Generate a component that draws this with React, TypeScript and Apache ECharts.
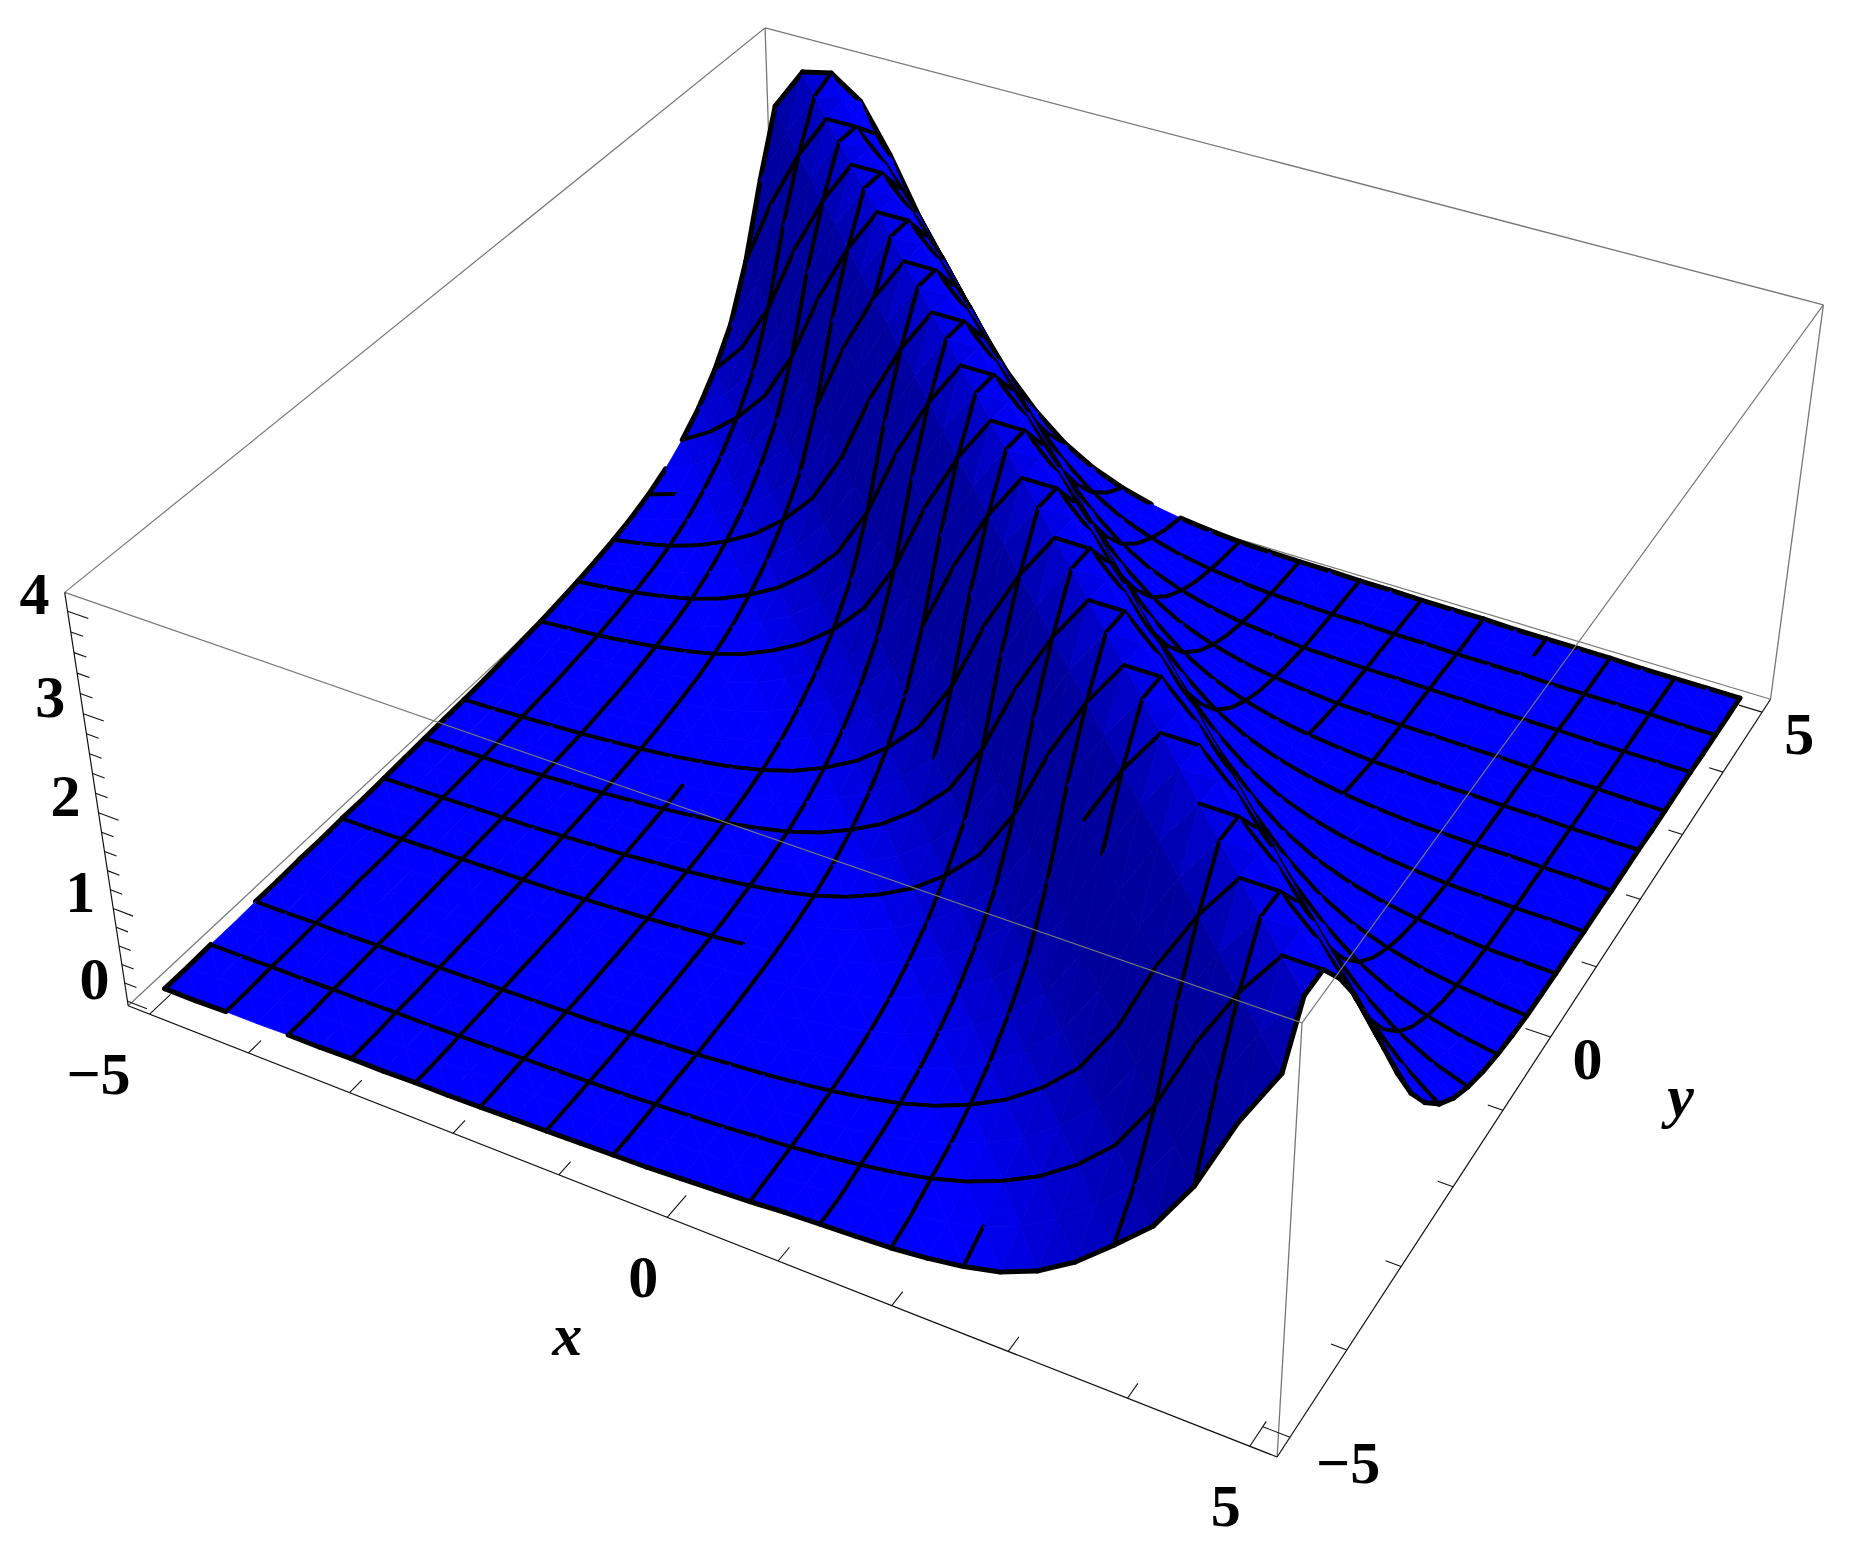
import React, { useEffect, useRef } from "react";
import * as echarts from "echarts";

const W = 1855, H = 1554;
const N = 33;
// surface height at y = -5 + j*0.3125 (row j), x = -5 + i*0.3125 (column i), read off the picture
const surface: number[][] = [
[.06,.06,.07,.07,.08,.08,.09,.09,.10,.10,.11,.12,.13,.14,.15,.16,.18,.20,.22,.25,.27,.29,.31,.35,.41,.50,.66,.90,1.22,1.56,2.1,2.85,3.45],
[.06,.07,.07,.08,.08,.09,.09,.10,.10,.11,.12,.13,.14,.15,.16,.18,.20,.22,.25,.28,.30,.34,.39,.46,.56,.71,.93,1.22,1.56,2.1,2.85,3.45,3.92],
[.07,.07,.08,.08,.09,.09,.10,.10,.11,.12,.13,.14,.15,.16,.18,.20,.22,.25,.28,.32,.37,.43,.51,.62,.77,.96,1.22,1.56,2.1,2.85,3.45,3.92,3.92],
[.07,.08,.08,.09,.09,.10,.10,.11,.12,.13,.14,.15,.16,.18,.20,.22,.25,.28,.32,.37,.43,.51,.62,.77,.96,1.22,1.56,2.1,2.85,3.45,3.92,3.92,3.6],
[.08,.08,.09,.09,.10,.10,.11,.12,.13,.14,.15,.16,.18,.20,.22,.25,.28,.32,.37,.43,.51,.62,.77,.96,1.22,1.56,2.1,2.85,3.45,3.92,3.92,3.6,3.2],
[.08,.09,.09,.10,.10,.11,.12,.13,.14,.15,.16,.18,.20,.22,.25,.28,.32,.37,.43,.51,.62,.77,.96,1.22,1.56,2.1,2.85,3.45,3.92,3.92,3.6,3.2,2.7],
[.09,.09,.10,.10,.11,.12,.13,.14,.15,.16,.18,.20,.22,.25,.28,.32,.37,.43,.51,.62,.77,.96,1.22,1.56,2.1,2.85,3.45,3.92,3.92,3.6,3.2,2.7,2.2],
[.09,.10,.10,.11,.12,.13,.14,.15,.16,.18,.20,.22,.25,.28,.32,.37,.43,.51,.62,.77,.96,1.22,1.56,2.1,2.85,3.45,3.92,3.92,3.6,3.2,2.7,2.2,1.7],
[.10,.10,.11,.12,.13,.14,.15,.16,.18,.20,.22,.25,.28,.32,.37,.43,.51,.62,.77,.96,1.22,1.56,2.1,2.85,3.45,3.92,3.92,3.6,3.2,2.7,2.2,1.7,1.25],
[.10,.11,.12,.13,.14,.15,.16,.18,.20,.22,.25,.28,.32,.37,.43,.51,.62,.77,.96,1.22,1.56,2.1,2.85,3.45,3.92,3.92,3.6,3.2,2.7,2.2,1.7,1.25,.90],
[.11,.12,.13,.14,.15,.16,.18,.20,.22,.25,.28,.32,.37,.43,.51,.62,.77,.96,1.22,1.56,2.1,2.85,3.45,3.92,3.92,3.6,3.2,2.7,2.2,1.7,1.25,.90,.63],
[.12,.13,.14,.15,.16,.18,.20,.22,.25,.28,.32,.37,.43,.51,.62,.77,.96,1.22,1.56,2.1,2.85,3.45,3.92,3.92,3.6,3.2,2.7,2.2,1.7,1.25,.90,.63,.44],
[.13,.14,.15,.16,.18,.20,.22,.25,.28,.32,.37,.43,.51,.62,.77,.96,1.22,1.56,2.1,2.85,3.45,3.92,3.92,3.6,3.2,2.7,2.2,1.7,1.25,.90,.63,.44,.31],
[.14,.15,.16,.18,.20,.22,.25,.28,.32,.37,.43,.51,.62,.77,.96,1.22,1.56,2.1,2.85,3.45,3.92,3.92,3.6,3.2,2.7,2.2,1.7,1.25,.90,.63,.44,.31,.22],
[.15,.16,.18,.20,.22,.25,.28,.32,.37,.43,.51,.62,.77,.96,1.22,1.56,2.1,2.85,3.45,3.92,3.92,3.6,3.2,2.7,2.2,1.7,1.25,.90,.63,.44,.31,.22,.16],
[.16,.18,.20,.22,.25,.28,.32,.37,.43,.51,.62,.77,.96,1.22,1.56,2.1,2.85,3.45,3.92,3.92,3.6,3.2,2.7,2.2,1.7,1.25,.90,.63,.44,.31,.22,.16,.12],
[.18,.20,.22,.25,.28,.32,.37,.43,.51,.62,.77,.96,1.22,1.56,2.1,2.85,3.45,3.92,3.92,3.6,3.2,2.7,2.2,1.7,1.25,.90,.63,.44,.31,.22,.16,.12,.09],
[.20,.22,.25,.28,.32,.37,.43,.51,.62,.77,.96,1.22,1.56,2.1,2.85,3.45,3.92,3.92,3.6,3.2,2.7,2.2,1.7,1.25,.90,.63,.44,.31,.22,.16,.12,.09,.08],
[.22,.25,.28,.32,.37,.43,.51,.62,.77,.96,1.22,1.56,2.1,2.85,3.45,3.92,3.92,3.6,3.2,2.7,2.2,1.7,1.25,.90,.63,.44,.31,.22,.16,.12,.09,.08,.07],
[.25,.28,.32,.37,.43,.51,.62,.77,.96,1.22,1.56,2.1,2.85,3.45,3.92,3.92,3.6,3.2,2.7,2.2,1.7,1.25,.90,.63,.44,.31,.22,.16,.12,.09,.08,.07,.07],
[.28,.32,.37,.43,.51,.62,.77,.96,1.22,1.56,2.1,2.85,3.45,3.92,3.92,3.6,3.2,2.7,2.2,1.7,1.25,.90,.63,.44,.31,.22,.16,.12,.09,.08,.07,.07,.06],
[.32,.37,.43,.51,.62,.77,.96,1.22,1.56,2.1,2.85,3.45,3.92,3.92,3.6,3.2,2.7,2.2,1.7,1.25,.90,.63,.44,.31,.22,.16,.12,.09,.08,.07,.07,.06,.06],
[.37,.43,.51,.62,.77,.96,1.22,1.56,2.1,2.85,3.45,3.92,3.92,3.6,3.2,2.7,2.2,1.7,1.25,.90,.63,.44,.31,.22,.16,.12,.09,.08,.07,.07,.06,.06,.05],
[.43,.51,.62,.77,.96,1.22,1.56,2.1,2.85,3.45,3.92,3.92,3.6,3.2,2.7,2.2,1.7,1.25,.90,.63,.44,.31,.22,.16,.12,.09,.08,.07,.07,.06,.06,.05,.05],
[.51,.62,.77,.96,1.22,1.56,2.1,2.85,3.45,3.92,3.92,3.6,3.2,2.7,2.2,1.7,1.25,.90,.63,.44,.31,.22,.16,.12,.09,.08,.07,.07,.06,.06,.05,.05,.05],
[.62,.77,.96,1.22,1.56,2.1,2.85,3.45,3.92,3.92,3.6,3.2,2.7,2.2,1.7,1.25,.90,.63,.44,.31,.22,.16,.12,.09,.08,.07,.07,.06,.06,.05,.05,.05,.04],
[.77,.96,1.22,1.56,2.1,2.85,3.45,3.92,3.92,3.6,3.2,2.7,2.2,1.7,1.25,.90,.63,.44,.31,.22,.16,.12,.09,.08,.07,.07,.06,.06,.05,.05,.05,.04,.04],
[.96,1.22,1.56,2.1,2.85,3.45,3.92,3.92,3.6,3.2,2.7,2.2,1.7,1.25,.90,.63,.44,.31,.22,.16,.12,.09,.08,.07,.07,.06,.06,.05,.05,.05,.04,.04,.04],
[1.22,1.56,2.1,2.85,3.45,3.92,3.92,3.6,3.2,2.7,2.2,1.7,1.25,.90,.63,.44,.31,.22,.16,.12,.09,.08,.07,.07,.06,.06,.05,.05,.05,.04,.04,.04,.04],
[1.56,2.1,2.85,3.45,3.92,3.92,3.6,3.2,2.7,2.2,1.7,1.25,.90,.63,.44,.31,.22,.16,.12,.09,.08,.07,.07,.06,.06,.05,.05,.05,.04,.04,.04,.04,.03],
[2.1,2.85,3.45,3.92,3.92,3.6,3.2,2.7,2.2,1.7,1.25,.90,.63,.44,.31,.22,.16,.12,.09,.08,.07,.07,.06,.06,.05,.05,.05,.04,.04,.04,.04,.03,.03],
[2.85,3.45,3.92,3.98,3.7,3.2,2.7,2.2,1.7,1.25,.90,.63,.44,.31,.22,.16,.12,.09,.08,.07,.07,.06,.06,.05,.05,.05,.04,.04,.04,.04,.03,.03,.03],
[3.5,3.95,4.02,3.8,3.3,2.7,2.2,1.7,1.25,.90,.63,.44,.31,.22,.16,.12,.09,.08,.07,.07,.06,.06,.05,.05,.05,.04,.04,.04,.04,.03,.03,.03,.03],
];

// mesh stretches that the reference does not show: [line index, from, to]
const hiddenAlongX: [number,number,number][] = [[0,2,4],[6,0,27],[8,13,23],[16,0,14],[24,1,6],[32,13,14]];
const hiddenAlongY: [number,number,number][] = [[0,2,4],[0,25,26],[26,0,31],[24,1,7],[24,10,22],[22,12,24],[16,0,13],[8,13,24]];

const xTicks = [-5,-4,-3,-2,-1,0,1,2,3,4,5];
const yTicks = [-5,-4,-3,-2,-1,0,1,2,3,4,5];
const zTicks = [0,.2,.4,.6,.8,1,1.2,1.4,1.6,1.8,2,2.2,2.4,2.6,2.8,3,3.2,3.4,3.6,3.8,4];
const xLabels = [-5,0,5];
const yLabels = [-5,0,5];
const zLabels = [0,1,2,3,4];

const R = 5.22, ZL = -0.05, ZH = 4.18;
const calib: [number,number,number,number,number][] = [
  [-R,-R,ZL,128,1006],[R,-R,ZL,1278,1457],[R,R,ZL,1770,699],
  [-R,-R,ZH,65,592],[R,-R,ZH,1301,1023],[R,R,ZH,1824,305],[-R,R,ZH,765,28],
];
function solveCamera() {
  const A: number[][] = Array.from({length:11},()=>new Array(12).fill(0));
  const add=(r:number[],b:number)=>{for(let a=0;a<11;a++){for(let c=0;c<11;c++)A[a][c]+=r[a]*r[c];A[a][11]+=r[a]*b;}};
  for(const [x0,y0,z0,u0,v0] of calib){
    const x=x0/5,y=y0/5,z=z0/5,u=u0/1000,v=v0/1000;
    add([x,y,z,1,0,0,0,0,-u*x,-u*y,-u*z],u);
    add([0,0,0,0,x,y,z,1,-v*x,-v*y,-v*z],v);
  }
  for(let i=0;i<11;i++){
    let p=i;for(let r=i+1;r<11;r++)if(Math.abs(A[r][i])>Math.abs(A[p][i]))p=r;
    [A[i],A[p]]=[A[p],A[i]];
    for(let r=0;r<11;r++){if(r===i)continue;const f=A[r][i]/A[i][i];for(let c=i;c<12;c++)A[r][c]-=f*A[i][c];}
  }
  return A.map((row,i)=>row[11]/row[i]);
}
const P = solveCamera();
function project(x0:number,y0:number,z0:number):[number,number,number]{
  const x=x0/5,y=y0/5,z=z0/5;
  const w=P[8]*x+P[9]*y+P[10]*z+1;
  return [1000*(P[0]*x+P[1]*y+P[2]*z+P[3])/w,1000*(P[4]*x+P[5]*y+P[6]*z+P[7])/w,w];
}

type Seg=[number,number,number,number,number,number,string,number];
const GREY="#777777", INK="#111111";
const backSegs:Seg[]=[
  [-R,-R,ZL,-R,R,ZL,GREY,1.2],[-R,R,ZL,R,R,ZL,GREY,1.2],[-R,R,ZL,-R,R,ZH,GREY,1.3],
  [-R,-R,ZH,-R,R,ZH,GREY,1.2],[-R,R,ZH,R,R,ZH,GREY,1.3],[R,R,ZL,R,R,ZH,GREY,1.3],
];
const frontSegs:Seg[]=[
  [-R,-R,ZH,R,-R,ZH,GREY,1.2],[R,-R,ZH,R,R,ZH,GREY,1.2],[R,-R,ZL,R,-R,ZH,GREY,1.3],
  [-R,-R,ZL,R,-R,ZL,INK,1.2],[R,-R,ZL,R,R,ZL,INK,1.2],[-R,-R,ZL,-R,-R,ZH,INK,1.2],
];
xTicks.forEach(v=>{const l=xLabels.includes(v)?.28:.17;frontSegs.push([v,-R,ZL,v,-R+l,ZL,INK,1.1]);});
yTicks.forEach(v=>{const l=yLabels.includes(v)?.22:.13;frontSegs.push([R,v,ZL,R-l,v,ZL,INK,1.1]);});
zTicks.forEach(v=>{const l=zLabels.includes(v)?.2:.12;frontSegs.push([-R,-R,v,-R+l,-R,v,INK,1.1]);});

type Lab={t:string;x:number;y:number;z:number;dx:number;dy:number;align:string;font:string};
const BOLD='bold 60px "Liberation Serif"', ITAL='italic bold 60px "Liberation Serif"';
const num=(v:number)=>v<0?"\u2212"+(-v):String(v);
const labels:Lab[]=[
  ...zLabels.map(v=>({t:num(v),x:-R,y:-R,z:v,dx:-33,dy:v===0?-22:-17,align:"center",font:BOLD})),
  ...xLabels.map(v=>({t:num(v),x:v,y:-R,z:ZL,dx:v<0?-19:-9,dy:60,align:"right",font:BOLD})),
  ...yLabels.map(v=>({t:num(v),x:R,y:v,z:ZL,dx:v<0?26:22,dy:v<0?26:22,align:"left",font:BOLD})),
  {t:"x",x:0,y:-R,z:ZL,dx:-100,dy:118,align:"center",font:ITAL},
  {t:"y",x:R,y:0,z:ZL,dx:130,dy:59,align:"center",font:ITAL},
];

const step=10/(N-1);
const isHidden=(list:[number,number,number][],line:number,a:number)=>list.some(([l,s,e])=>l===line&&a>=s&&a<e);
const clampI=(v:number)=>Math.max(0,Math.min(N-1,v));
function vertexBright(i:number,j:number){
  const gx=(surface[j][clampI(i+1)]-surface[j][clampI(i-1)])/((clampI(i+1)-clampI(i-1))*step);
  const gy=(surface[clampI(j+1)][i]-surface[clampI(j-1)][i])/((clampI(j+1)-clampI(j-1))*step);
  const len=Math.hypot(gx,gy,1);
  return Math.max(.45,Math.min(1,.76+.22*(-gx-gy)/len+.45/len));
}
type Tri={a:[number,number];b:[number,number];c:[number,number];w:number;col:string;edges:any[]};
const tris:Tri[]=[];
function makeTri(a:[number,number],b:[number,number],c:[number,number],edges:any[]){
  const vs=[a,b,c];
  const cx=vs.reduce((s,v)=>s+(-5+v[0]*step),0)/3,cy=vs.reduce((s,v)=>s+(-5+v[1]*step),0)/3,cz=vs.reduce((s,v)=>s+surface[v[1]][v[0]],0)/3;
  const br=vs.reduce((s,v)=>s+vertexBright(v[0],v[1]),0)/3;
  tris.push({a,b,c,w:project(cx,cy,cz)[2],col:`rgb(0,0,${Math.round(255*br)})`,edges});
}
function edge(p:[number,number],q:[number,number]){
  const alongX=p[1]===q[1];
  const idx=alongX?p[1]:p[0];
  if(idx%2!==0)return null;
  const start=alongX?Math.min(p[0],q[0]):Math.min(p[1],q[1]);
  if(isHidden(alongX?hiddenAlongX:hiddenAlongY,idx,start))return null;
  return [p,q,idx===0||idx===N-1];
}
for(let j=0;j<N-1;j++)for(let i=0;i<N-1;i++){
  const v00:[number,number]=[i,j],v10:[number,number]=[i+1,j],v01:[number,number]=[i,j+1],v11:[number,number]=[i+1,j+1];
  makeTri(v00,v10,v01,[edge(v00,v10),edge(v00,v01)].filter(Boolean));
  makeTri(v10,v11,v01,[edge(v01,v11),edge(v10,v11)].filter(Boolean));
}
tris.sort((p,q)=>q.w-p.w);

function segRender(segs:Seg[]){
  return (p:any,api:any)=>{
    const s=segs[p.dataIndex];
    const a=api.coord(project(s[0],s[1],s[2]).slice(0,2));
    const b=api.coord(project(s[3],s[4],s[5]).slice(0,2));
    return {type:"line",shape:{x1:a[0],y1:a[1],x2:b[0],y2:b[1]},style:{stroke:s[6],lineWidth:s[7],fill:"none"}};
  };
}

export default function App(){
  const ref=useRef<HTMLDivElement>(null);
  useEffect(()=>{
    document.body.style.margin="0";
    const chart=echarts.init(ref.current!,undefined,{renderer:"svg"});
    const vertex=(v:[number,number],api:any)=>{
      const q=project(-5+v[0]*step,-5+v[1]*step,surface[v[1]][v[0]]);
      return api.coord([q[0],q[1]]);
    };
    chart.setOption({
      animation:false,
      backgroundColor:"#ffffff",
      grid:{left:0,right:0,top:0,bottom:0},
      xAxis:{type:"value",min:0,max:W,show:false},
      yAxis:{type:"value",min:0,max:H,inverse:true,show:false},
      series:[
        {type:"custom",coordinateSystem:"cartesian2d",clip:false,silent:true,data:backSegs.map((_,i)=>[i]),renderItem:segRender(backSegs)},
        {type:"custom",coordinateSystem:"cartesian2d",clip:false,silent:true,data:tris.map((_,i)=>[i]),
          renderItem:(p:any,api:any)=>{
            const t=tris[p.dataIndex];
            const children:any[]=[{type:"polygon",shape:{points:[vertex(t.a,api),vertex(t.b,api),vertex(t.c,api)]},style:{fill:t.col,stroke:t.col,lineWidth:.8}}];
            for(const e of t.edges){
              const a=vertex(e[0],api),b=vertex(e[1],api);
              children.push({type:"line",shape:{x1:a[0],y1:a[1],x2:b[0],y2:b[1]},style:{stroke:"#000",lineWidth:e[2]?5:3.8,lineCap:"round",fill:"none"}});
            }
            return {type:"group",children};
          }},
        {type:"custom",coordinateSystem:"cartesian2d",clip:false,silent:true,data:frontSegs.map((_,i)=>[i]),renderItem:segRender(frontSegs)},
        {type:"custom",coordinateSystem:"cartesian2d",clip:false,silent:true,data:labels.map((l,i)=>[i]),
          renderItem:(p:any,api:any)=>{
            const l=labels[p.dataIndex];
            const q=api.coord(project(l.x,l.y,l.z).slice(0,2));
            return {type:"text",x:q[0]+l.dx,y:q[1]+l.dy,style:{text:l.t,font:l.font,fill:"#000",textAlign:l.align,textVerticalAlign:"middle"}};
          }},
      ],
    });
    return ()=>chart.dispose();
  },[]);
  return <div ref={ref} style={{width:W,height:H,position:"absolute",left:0,top:0}}/>;
}
